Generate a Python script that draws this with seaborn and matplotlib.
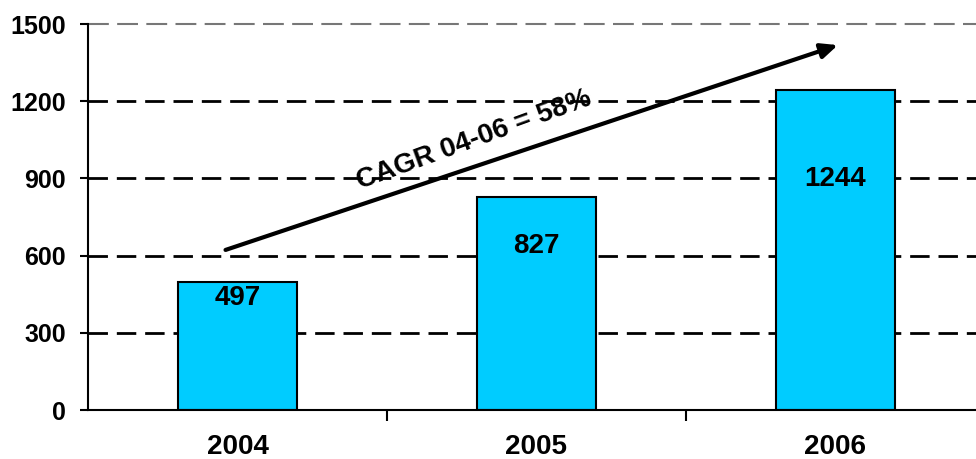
import matplotlib
matplotlib.use("Agg")
import matplotlib.pyplot as plt
import seaborn as sns
import pandas as pd

years = ["2004", "2005", "2006"]
values = [497, 827, 1244]
yticks = [0, 300, 600, 900, 1200, 1500]
cagr_text = "CAGR 04-06 = 58%"

sns.set_style("white")
plt.rcParams['font.family'] = ['Liberation Sans', 'DejaVu Sans']
plt.rcParams['text.color'] = 'black'
plt.rcParams['xtick.color'] = 'black'
plt.rcParams['ytick.color'] = 'black'

fig = plt.figure(figsize=(9.76, 4.59), dpi=100)
ax = fig.add_axes([88/976, 49/459, 1 - 88/976, (410-24)/459])

df = pd.DataFrame({"year": years, "value": values})
sns.barplot(data=df, x="year", y="value", color="#00CCFF", saturation=1,
            edgecolor="black", linewidth=1.5, width=0.395, ax=ax)

ax.set_xlim(-0.5, 2.47)
ax.set_ylim(0, 1500)
ax.set_yticks(yticks)
ax.set_yticklabels([str(t) for t in yticks], fontsize=18, fontweight="bold", color="black")
ax.set_xticks(range(len(years)))
ax.set_xticklabels(years, fontsize=20, fontweight="bold", color="black")
ax.tick_params(axis="x", length=0, pad=17)
ax.tick_params(axis="y", length=6, width=1.5, direction="out", pad=10, left=True)
# category separator ticks
ax.set_xticks([0.5, 1.5], minor=True)
ax.tick_params(axis="x", which="minor", length=8, width=1.5, direction="out", bottom=True)
ax.set_xlabel("")
ax.set_ylabel("")

for s in ["top", "right"]:
    ax.spines[s].set_visible(False)
for s in ["left", "bottom"]:
    ax.spines[s].set_color("black")
    ax.spines[s].set_linewidth(1.5)

ax.set_axisbelow(True)
for t in yticks[1:-1]:
    ax.axhline(t, color="black", lw=2, dashes=(7, 3.2), zorder=0.5)
ax.axhline(yticks[-1], color="#777777", lw=1.5, dashes=(10, 4), zorder=0.5, clip_on=False)

# value labels inside bars (offset in points below bar top)
label_offsets = [11.5, 35, 64]
for patch, v, off in zip(ax.patches, values, label_offsets):
    cx = patch.get_x() + patch.get_width() / 2
    ax.annotate(str(v), (cx, patch.get_height()), xytext=(0, -off), textcoords="offset points",
                ha="center", va="center", fontsize=20, fontweight="bold", color="black")

# CAGR arrow
ax.annotate("", xy=(2.008, 1418), xytext=(-0.04, 622),
            arrowprops=dict(arrowstyle="-|>,head_length=1.0,head_width=0.45", lw=3, color="black",
                            shrinkA=0, shrinkB=0))
ax.text(0.79, 1049, cagr_text, rotation=20, rotation_mode="anchor", ha="center", va="center",
        fontsize=20, fontweight="bold", color="black", family=['Liberation Sans'])

fig.savefig("out.png", dpi=100)
